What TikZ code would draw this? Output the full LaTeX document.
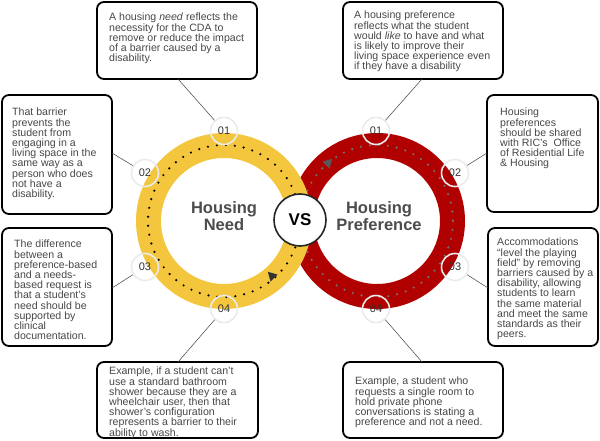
\documentclass[tikz,border=0pt]{standalone}
\usepackage{fontspec}
\setmainfont{Liberation Sans}
\begin{document}
\begin{tikzpicture}[x=1pt,y=-1pt,
  box/.style={draw=black,line width=1.8pt,rounded corners=7pt},
  txt/.style={anchor=north west,inner sep=0pt,align=left,font=\fontsize{10.6}{10.2}\selectfont,text=black!72},
  mk/.style={circle,draw=cyan!8!gray!18,line width=1.6pt,minimum size=27pt,inner sep=0pt,font=\fontsize{11}{12}\selectfont,text=black!80},
  lead/.style={draw=black!75,line width=0.5pt},
  ttl/.style={font=\bfseries\fontsize{16.5}{17}\selectfont,text=black!70,align=center}]
\useasboundingbox (0,0) rectangle (600,441);
\definecolor{ry}{HTML}{F4C63D}
\definecolor{rr}{HTML}{B00000}
% rings
\draw[rr,line width=25pt] (377,221) circle[radius=75.5];
\draw[ry,line width=25pt] (224,221) circle[radius=75.5];
\draw[black,line width=2.4pt,dash pattern=on 0pt off 9pt,line cap=round] (224,221) circle[radius=76];
\draw[black!55,line width=2.4pt,dash pattern=on 0pt off 9pt,line cap=round] (377,221) circle[radius=76];
\fill[black!80,rotate around={45:(272,276)}] (272,270) -- (277,279) -- (267,279) -- cycle;
\fill[black!65,rotate around={-45:(328,163)}] (328,157) -- (333,166) -- (323,166) -- cycle;
\node[circle,draw=black!85,fill=white,line width=1.6pt,minimum size=52pt,font=\bfseries\fontsize{17}{18}\selectfont] (vs) at (300,220) {VS};
\node[ttl] (need) at (224,216) {Housing\\Need};
\node[ttl] (pref) at (379,216) {Housing\\Preference};
% markers
\node[mk] (a1) at (224,131) {01};
\node[mk] (a2) at (145,173) {02};
\node[mk] (a3) at (145,267) {03};
\node[mk] (a4) at (224,309) {04};
\node[mk] (b1) at (376,131) {01};
\node[mk] (b2) at (455,173) {02};
\node[mk] (b3) at (455,267) {03};
\node[mk] (b4) at (376,309) {04};
% boxes
\draw[box] (97,2) rectangle (257,79); \coordinate (L1) at (178,79);
\draw[box] (2,95) rectangle (112,214); \coordinate (L2) at (112,153);
\draw[box] (2,228) rectangle (112,346); \coordinate (L3) at (112,288);
\draw[box] (97,362) rectangle (258,438); \coordinate (L4) at (178,362);
\draw[box] (343,2) rectangle (503,79); \coordinate (R1) at (422,79);
\draw[box] (487,95) rectangle (598,212); \coordinate (R2) at (487,153);
\draw[box] (488,228) rectangle (598,346); \coordinate (R3) at (488,288);
\draw[box] (343,362) rectangle (503,438); \coordinate (R4) at (422,362);
\draw[lead] (a1) -- (L1); \draw[lead] (a2) -- (L2); \draw[lead] (a3) -- (L3); \draw[lead] (a4) -- (L4);
\draw[lead] (b1) -- (R1); \draw[lead] (b2) -- (R2); \draw[lead] (b3) -- (R3); \draw[lead] (b4) -- (R4);
% texts
\node[txt] (t1) at (109,13) {A housing \emph{need} reflects the\\necessity for the CDA to\\remove or reduce the impact\\of a barrier caused by a\\disability.};
\node[txt] (t2) at (12,108) {That barrier\\prevents the\\student from\\engaging in a\\living space in the\\same way as a\\person who does\\not have a\\disability.};
\node[txt] (t3) at (14,240) {The difference\\between a\\preference-based\\and a needs-\\based request is\\that a student's\\need should be\\supported by\\clinical\\documentation.};
\node[txt] (t4) at (109,367) {Example, if a student can't\\use a standard bathroom\\shower because they are a\\wheelchair user, then that\\shower's configuration\\represents a barrier to their\\ability to wash.};
\node[txt] (t5) at (354,11) {A housing preference\\reflects what the student\\would \emph{like} to have and what\\is likely to improve their\\living space experience even\\if they have a disability};
\node[txt] (t6) at (500,108) {Housing\\preferences\\should be shared\\with RIC's\ \ Office\\of Residential Life\\\& Housing};
\node[txt] (t7) at (497,238) {Accommodations\\``level the playing\\field'' by removing\\barriers caused by a\\disability, allowing\\students to learn\\the same material\\and meet the same\\standards as their\\peers.};
\node[txt] (t8) at (355,377) {Example, a student who\\requests a single room to\\hold private phone\\conversations is stating a\\preference and not a need.};
\end{tikzpicture}
\end{document}
